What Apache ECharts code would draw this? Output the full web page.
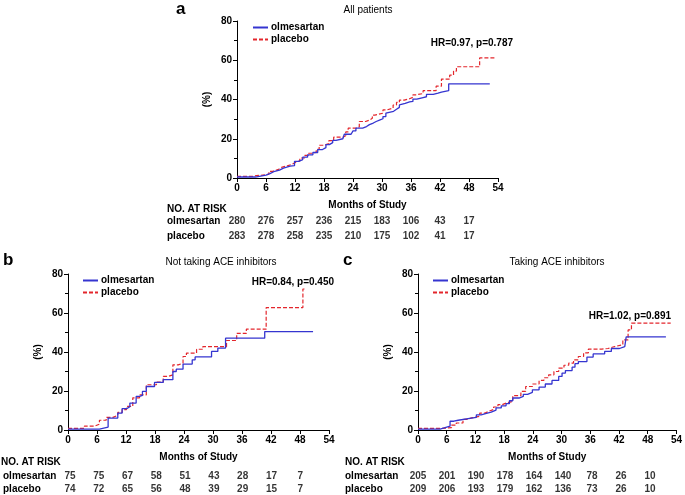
<!DOCTYPE html>
<html>
<head>
<meta charset="utf-8">
<title></title>
<style>
    * { margin: 0; padding: 0; }
    #main { width: 685px; height: 495px; background: #fff; }
</style>
</head>
<body>
<div id="main"></div>
<script src="https://cdn.jsdelivr.net/npm/echarts@6/dist/echarts.min.js"></script>
<script>
var monthTicks = [0, 6, 12, 18, 24, 30, 36, 42, 48, 54];
var riskMonths = [0, 6, 12, 18, 24, 30, 36, 42, 48];
var riskRows = ['olmesartan', 'placebo'];

// numbers at risk
var riskA_olm = [280, 276, 257, 236, 215, 183, 106, 43, 17];
var riskA_pla = [283, 278, 258, 235, 210, 175, 102, 41, 17];
var riskB_olm = [75, 75, 67, 58, 51, 43, 28, 17, 7];
var riskB_pla = [74, 72, 65, 56, 48, 39, 29, 15, 7];
var riskC_olm = [205, 201, 190, 178, 164, 140, 78, 26, 10];
var riskC_pla = [209, 206, 193, 179, 162, 136, 73, 26, 10];

// cumulative incidence (%) steps: [month, value]
var curveA_olm = [[0,0.5],[3.8,1.5],[6,2.2],[6.8,3.2],[7.6,4],[8.8,5],[9.6,6],[11,6.3],[11.9,8.5],[12.8,9.4],[13.6,10.6],[14.6,11.8],[15.7,13],[16.7,14.5],[17.7,15.5],[18.4,17],[19.1,18],[19.8,19.2],[20.5,20],[21.9,20.2],[22.2,22.3],[23.6,22.5],[24,24],[24.6,25.4],[26,26.2],[26.8,27.2],[27.4,28],[28.2,28.8],[28.8,29.6],[29.6,30.2],[30.2,31.3],[30.8,33],[31.2,34],[32.4,35],[33,36],[33.6,37.2],[34,38],[34.8,38.8],[35.7,39],[36.4,40.2],[37.2,41],[38.5,41.4],[39.2,42.6],[40.6,43.2],[41.6,43.8],[42.3,44.5],[43.8,48],[52.3,48]];
var curveA_pla = [[0,0.8],[3.2,1.2],[4,1.6],[6,2],[6.6,3.4],[7.4,4.4],[8.6,5.4],[9.2,6.2],[10.4,6.8],[11.2,7.8],[12,8.8],[13,10.2],[14,11.5],[14.8,12.6],[15.8,13.2],[16.4,14.6],[17,16.7],[18,17.5],[19,19],[20,20.8],[21.9,21.5],[22.5,23.5],[23,25.4],[24.6,26],[25.3,28.8],[26.6,29.5],[27.4,30.4],[28,32],[28.5,33],[30.2,34.7],[31,35.6],[32.3,37.2],[33,38.5],[33.6,39.7],[34.6,40.4],[35.7,41.1],[36.4,42.4],[37.1,43],[38.5,44.5],[41.2,46.8],[42.3,50.4],[44,52.4],[44.8,54.5],[45.4,56.7],[50.2,61.2],[53.3,61.2]];
var curveB_olm = [[0,0.5],[6.5,1.5],[8.3,6.1],[10.3,8.7],[11.2,11],[12.2,12],[12.8,13.8],[14.1,17.2],[14.8,17.8],[15.4,19.8],[16.2,22.3],[17.9,24.4],[19.7,25.8],[21.7,30],[22.4,31.2],[23.8,33.8],[25.7,36],[26.3,37.5],[29.7,40.3],[31,42],[32.6,47.1],[40.7,50.5],[50.7,50.5]];
var curveB_pla = [[0,0.8],[3.4,2],[5.5,3],[6.5,5],[7.9,6.5],[9.3,7.5],[10.3,9],[11.2,10.5],[12.1,12.1],[13.4,16.5],[14.8,18],[16.2,23.2],[18.3,24.6],[19.7,27.5],[20.7,28.3],[21.7,33.4],[22.8,34.3],[23.8,37.7],[24.5,39.4],[26.6,41.4],[27.9,42.8],[32.8,45.9],[34.9,49.6],[36.9,51.7],[41,62.8],[48.6,72.3],[49.3,72.3]];
var curveC_olm = [[0,0.5],[4.6,1.5],[6,2],[6.7,4.5],[7.5,5],[8.4,6],[10.8,6.5],[12.2,7.8],[13.2,8.5],[14.3,9.2],[15.3,10.2],[16.3,11.3],[17.4,12.4],[18.4,13.5],[19.1,15],[19.8,16.4],[21.1,17.2],[22,18.3],[22.9,19.3],[23.9,20.6],[25.3,22],[26.6,23.6],[28,25.4],[29.4,27.5],[30.1,29.2],[30.8,30.5],[32.2,32.2],[32.8,34],[33.5,35.1],[35.3,37.4],[36.6,39],[39,40.3],[40.4,41.8],[42.1,42.8],[43.2,43.7],[43.5,47.8],[51.8,47.8]];
var curveC_pla = [[0,0.8],[4.5,1],[6,1.2],[7,2.5],[8,3.6],[9.4,5.5],[10.4,6.2],[11.2,7],[12.9,8.7],[14,9.7],[14.9,10.5],[15.8,11.8],[16.7,13],[17.6,13.8],[18.4,14.7],[19.8,17.6],[21.5,19.8],[22.5,22.3],[23.9,23.6],[25.3,25.4],[26.3,26.8],[27.3,28.3],[28.4,30],[29.4,31.7],[30.5,33.2],[31.5,34.3],[32.5,36],[33.5,37.7],[34.6,39.6],[35.6,41.5],[38.4,41.8],[39.7,42.8],[41.1,43.7],[42.8,46.2],[43.9,51.3],[44.6,54.8],[52.8,54.8]];

var FONT = 'Liberation Sans';
var FS = 10;
var BLUE = '#3535d0';
var RED = '#e3262c';

var panels = [
    { key: 'a', title: 'All patients', hr: 'HR=0.97, p=0.787', left: 237, top: 21, height: 157,
      olm: curveA_olm, pla: curveA_pla, rOlm: riskA_olm, rPla: riskA_pla,
      titleX: 368, letterX: 176, hrRight: 513, hrTop: 38, legendLeft: 252, tableTop: 214, tableH: 30, tableLabelX: 167, riskTop: 204 },
    { key: 'b', title: 'Not taking ACE inhibitors', hr: 'HR=0.84, p=0.450', left: 68, top: 274, height: 156,
      olm: curveB_olm, pla: curveB_pla, rOlm: riskB_olm, rPla: riskB_pla,
      titleX: 221, letterX: 3, hrRight: 334, hrTop: 277, legendLeft: 82, tableTop: 470, tableH: 26, tableLabelX: 1, riskTop: 457 },
    { key: 'c', title: 'Taking ACE inhibitors', hr: 'HR=1.02, p=0.891', left: 418, top: 274, height: 156,
      olm: curveC_olm, pla: curveC_pla, rOlm: riskC_olm, rPla: riskC_pla,
      titleX: 557, letterX: 343, hrRight: 671, hrTop: 311, legendLeft: 432, tableTop: 470, tableH: 26, tableLabelX: 345, riskTop: 457 }
];

var option = { animation: false, backgroundColor: '#fff', textStyle: { fontFamily: FONT },
    grid: [], xAxis: [], yAxis: [], series: [], legend: [], graphic: [] };

panels.forEach(function (p, i) {
    var g = i * 2;
    option.grid.push({ left: p.left, top: p.top, width: 261, height: p.height });
    option.grid.push({ left: p.left, top: p.tableTop, width: 261, height: p.tableH });

    option.xAxis.push({
        gridIndex: g, type: 'value', min: 0, max: 54, interval: 6,
        name: 'Months of Study', nameLocation: 'middle', nameGap: 22,
        nameTextStyle: { color: '#000', fontWeight: 'bold', fontSize: FS, fontFamily: FONT },
        axisLine: { lineStyle: { color: '#000', width: 1 } },
        axisTick: { length: 4, lineStyle: { color: '#000' } },
        axisLabel: { color: '#000', fontWeight: 'bold', fontSize: FS, margin: 5, fontFamily: FONT },
        splitLine: { show: false }
    });
    option.xAxis.push({ gridIndex: g + 1, type: 'value', min: 0, max: 54, show: false });

    option.yAxis.push({
        gridIndex: g, type: 'value', min: 0, max: 80, interval: 20,
        name: '(%)', nameLocation: 'middle', nameGap: 25, nameRotate: 90,
        nameTextStyle: { color: '#000', fontWeight: 'bold', fontSize: FS, fontFamily: FONT },
        axisLine: { show: true, lineStyle: { color: '#000', width: 1 } },
        axisTick: { show: true, length: 4, lineStyle: { color: '#000' } },
        minorTick: { show: true, splitNumber: 2, length: 3, lineStyle: { color: '#000' } },
        axisLabel: { color: '#000', fontWeight: 'bold', fontSize: FS, margin: 5, fontFamily: FONT },
        splitLine: { show: false }
    });
    option.yAxis.push({
        gridIndex: g + 1, type: 'category', data: riskRows, inverse: true,
        axisLine: { show: false }, axisTick: { show: false },
        axisLabel: { interval: 0, align: 'left', margin: p.left - p.tableLabelX, color: '#000', fontWeight: 'bold', fontSize: FS, fontFamily: FONT }
    });

    option.series.push({
        name: 'olmesartan', type: 'line', step: 'end', xAxisIndex: g, yAxisIndex: g,
        data: p.olm, showSymbol: false, symbol: 'none', z: 3,
        lineStyle: { color: BLUE, width: 1.3 }, itemStyle: { color: BLUE }
    });
    option.series.push({
        name: 'placebo', type: 'line', step: 'end', xAxisIndex: g, yAxisIndex: g,
        data: p.pla, showSymbol: false, symbol: 'none', z: 2,
        lineStyle: { color: RED, width: 1.2, type: [4, 2] }, itemStyle: { color: RED }
    });

    var tbl = [];
    riskMonths.forEach(function (m, k) {
        tbl.push([m, 'olmesartan', p.rOlm[k]]);
        tbl.push([m, 'placebo', p.rPla[k]]);
    });
    option.series.push({
        type: 'scatter', xAxisIndex: g + 1, yAxisIndex: g + 1, data: tbl,
        symbolSize: 0, silent: true,
        label: { show: true, position: 'inside', formatter: function (d) { return d.value[2]; },
            color: '#000', fontWeight: 'bold', fontSize: FS, fontFamily: FONT }
    });

    option.legend.push({
        left: p.legendLeft, top: p.top + 1.5, orient: 'vertical', itemWidth: 15, itemHeight: 8, itemGap: 2,
        padding: 0, data: ['olmesartan', 'placebo'], selectedMode: false,
        itemStyle: { opacity: 0 },
        textStyle: { color: '#000', fontWeight: 'bold', fontSize: FS, fontFamily: FONT, padding: [0, 0, 0, -2] }
    });

    option.graphic.push({ type: 'text', left: p.letterX, top: i === 0 ? 1 : 252,
        style: { text: p.key, font: 'bold 17px ' + FONT, fill: '#000' } });
    option.graphic.push({ type: 'text', x: p.titleX, y: i === 0 ? 5 : 257,
        style: { text: p.title, font: FS + 'px ' + FONT, fill: '#000', textAlign: 'center' } });
    option.graphic.push({ type: 'text', x: p.hrRight, y: p.hrTop,
        style: { text: p.hr, font: 'bold ' + FS + 'px ' + FONT, fill: '#000', textAlign: 'right' } });
    option.graphic.push({ type: 'text', x: p.tableLabelX, y: p.riskTop,
        style: { text: 'NO. AT RISK', font: 'bold ' + FS + 'px ' + FONT, fill: '#000' } });
});

var myChart = echarts.init(document.getElementById('main'));
myChart.setOption(option);
</script>
</body>
</html>
